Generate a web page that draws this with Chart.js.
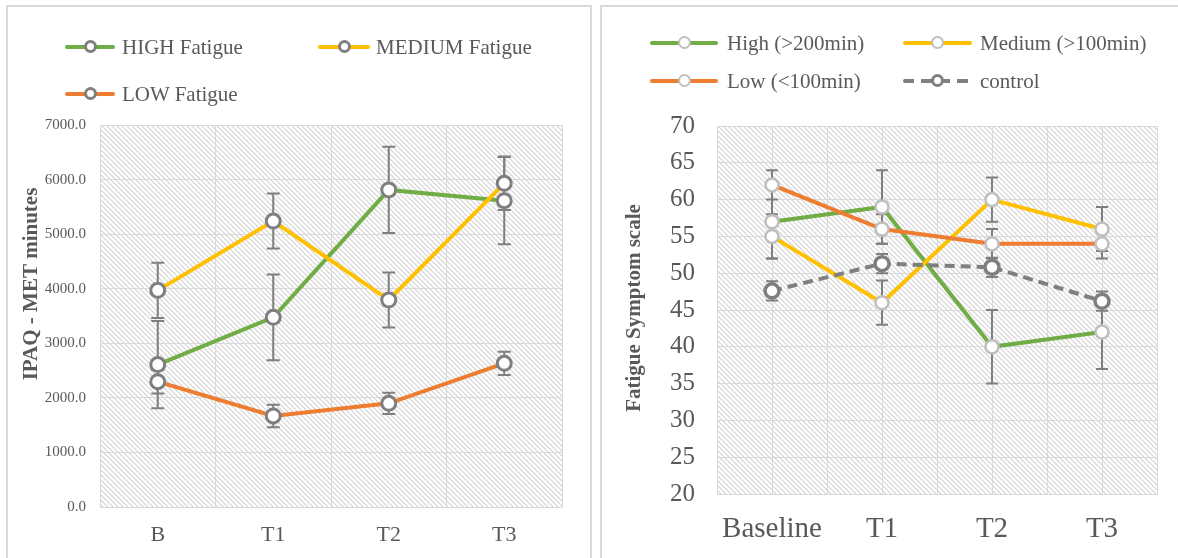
<!DOCTYPE html>
<html lang="en">
  <head>
    <meta charset="UTF-8" />
    <title>Fatigue charts</title>
    <script src="https://cdn.jsdelivr.net/npm/chart.js"></script>
    <style>
      body {
        margin: 0;
        width: 1178px;
        height: 558px;
        overflow: hidden;
        position: relative;
        background: #fff;
        font-family: "Liberation Serif", "Times New Roman", serif;
      }
      .panel {
        position: absolute;
        top: 5px;
        height: 600px;
        border: 2px solid #d9d9d9;
        box-sizing: border-box;
      }
      #leftPanel { left: 6px; width: 586px; }
      #rightPanel { left: 600px; width: 600px; }
      .holder { position: absolute; top: 7px; height: 551px; }
      #leftHolder { left: 8px; width: 580px; }
      #rightHolder { left: 604px; width: 574px; }
      .key {
        position: absolute;
        display: flex;
        align-items: center;
        height: 26px;
        font-size: 21px;
        color: #595959;
        white-space: nowrap;
      }
      .swatch { position: relative; height: 14px; }
      .swatch .ln {
        position: absolute;
        left: 0;
        right: 0;
        top: 5px;
        height: 4px;
        border-radius: 2px;
      }
      .swatch .dot {
        position: absolute;
        left: 50%;
        top: 0px;
        width: 13px;
        height: 13px;
        margin-left: -6.5px;
        box-sizing: border-box;
        border-radius: 50%;
        background: #fff;
      }
    </style>
  </head>
  <body>
    <div class="panel" id="leftPanel"></div>
    <div class="panel" id="rightPanel"></div>
    <div class="holder" id="leftHolder"><canvas id="metChart"></canvas></div>
    <div class="holder" id="rightHolder"><canvas id="fssChart"></canvas></div>

    <script>
      // ---- left chart: IPAQ MET minutes ----
      const metLabels = ["B", "T1", "T2", "T3"];
      const highMet = [2610, 3476, 5810, 5614];
      const highMetErr = [800, 785, 790, 800];
      const mediumMet = [3970, 5240, 3793, 5932];
      const mediumMetErr = [505, 504, 505, 490];
      const lowMet = [2296, 1668, 1900, 2633];
      const lowMetErr = [215, 205, 195, 213];
      const metTicks = [0, 1000, 2000, 3000, 4000, 5000, 6000, 7000];

      // ---- right chart: fatigue symptom scale ----
      const fssLabels = ["Baseline", "T1", "T2", "T3"];
      const highFss = [57, 59, 40, 42];
      const highFssErr = [5, 5, 5, 5];
      const mediumFss = [55, 46, 60, 56];
      const mediumFssErr = [3, 3, 3, 3];
      const lowFss = [62, 56, 54, 54];
      const lowFssErr = [2, 2, 2, 2];
      const controlFss = [47.6, 51.3, 50.8, 46.2];
      const controlFssErr = [1.3, 1.3, 1.3, 1.3];
      const fssTicks = [20, 25, 30, 35, 40, 45, 50, 55, 60, 65, 70];

      const GREEN = "#70ad47";
      const YELLOW = "#ffc000";
      const ORANGE = "#ed7d31";
      const GREY = "#7f7f7f";
      const LIGHTGREY = "#bfbfbf";
      const TEXT = "#595959";
      const GRID = "#d9d9d9";
      const SERIF = "'Liberation Serif', 'Times New Roman', serif";

      function hatch() {
        const c = document.createElement("canvas");
        c.width = 5;
        c.height = 5;
        const g = c.getContext("2d");
        g.fillStyle = "#fff";
        g.fillRect(0, 0, 5, 5);
        g.strokeStyle = "#d2d2d2";
        g.lineWidth = 1.1;
        g.beginPath();
        g.moveTo(-1, -1);
        g.lineTo(6, 6);
        g.moveTo(-1, 4);
        g.lineTo(1, 6);
        g.moveTo(4, -1);
        g.lineTo(6, 1);
        g.stroke();
        return c;
      }

      const plotDecor = {
        id: "plotDecor",
        beforeDraw(chart) {
          const a = chart.chartArea;
          const ctx = chart.ctx;
          ctx.save();
          ctx.fillStyle = ctx.createPattern(hatch(), "repeat");
          ctx.fillRect(a.left, a.top, a.right - a.left, a.bottom - a.top);
          ctx.restore();
        },
        beforeDatasetsDraw(chart, args, opts) {
          const ctx = chart.ctx;
          const a = chart.chartArea;
          const xs = chart.scales.x;
          const ys = chart.scales.y;
          ctx.save();
          if (opts.centerLines) {
            ctx.strokeStyle = GRID;
            ctx.lineWidth = 1;
            chart.data.labels.forEach((l, i) => {
              const x = Math.round(xs.getPixelForValue(i)) + 0.5;
              ctx.beginPath();
              ctx.moveTo(x, a.top);
              ctx.lineTo(x, a.bottom);
              ctx.stroke();
            });
          }
          // error bars
          ctx.strokeStyle = GREY;
          ctx.lineWidth = 2;
          chart.data.datasets.forEach((ds, i) => {
            const meta = chart.getDatasetMeta(i);
            ds.data.forEach((v, j) => {
              const e = ds.errors[j];
              const x = meta.data[j].x;
              const y1 = ys.getPixelForValue(v + e);
              const y2 = ys.getPixelForValue(v - e);
              ctx.beginPath();
              ctx.moveTo(x, y1);
              ctx.lineTo(x, y2);
              ctx.moveTo(x - opts.cap, y1);
              ctx.lineTo(x + opts.cap, y1);
              ctx.moveTo(x - opts.cap, y2);
              ctx.lineTo(x + opts.cap, y2);
              ctx.stroke();
            });
          });
          ctx.restore();
        },
        afterDraw(chart, args, opts) {
          const a = chart.chartArea;
          const ctx = chart.ctx;
          ctx.save();
          ctx.fillStyle = TEXT;
          ctx.font = "bold " + opts.titleSize + "px " + SERIF;
          ctx.textAlign = "center";
          ctx.textBaseline = "middle";
          ctx.translate(a.left - opts.titleDx, (a.top + a.bottom) / 2 + opts.titleDy);
          ctx.rotate(-Math.PI / 2);
          ctx.fillText(opts.title, 0, 0);
          ctx.restore();
        },
      };

      function series(label, data, errors, color, pointColor, pointWidth, radius, order, dash) {
        return {
          label: label,
          data: data,
          errors: errors,
          borderColor: color,
          borderWidth: 4,
          borderDash: dash || [],
          pointBackgroundColor: "#fff",
          pointBorderColor: pointColor,
          pointBorderWidth: pointWidth,
          pointRadius: radius,
          pointHoverRadius: radius,
          tension: 0,
          fill: false,
          order: order,
        };
      }

      function makeChart(id, labels, datasets, yTicks, opt) {
        return new Chart(document.getElementById(id), {
          type: "line",
          data: { labels: labels, datasets: datasets },
          plugins: [plotDecor],
          options: {
            responsive: true,
            maintainAspectRatio: false,
            animation: false,
            layout: { padding: { top: opt.top, right: opt.right, left: 0, bottom: 0 } },
            plugins: {
              legend: { display: false },
              tooltip: { enabled: false },
              plotDecor: opt.decor,
            },
            scales: {
              x: {
                offset: true,
                grid: { offset: true, color: GRID, drawTicks: false },
                border: { color: GRID },
                ticks: {
                  color: TEXT,
                  font: { family: SERIF, size: opt.xFont },
                  padding: opt.xPad,
                },
                afterFit(s) {
                  s.height = opt.xHeight;
                },
              },
              y: {
                min: yTicks[0],
                max: yTicks[yTicks.length - 1],
                afterBuildTicks(s) {
                  s.ticks = yTicks.map((v) => ({ value: v }));
                },
                grid: { color: GRID, drawTicks: false },
                border: { display: false },
                ticks: {
                  color: TEXT,
                  font: { family: SERIF, size: opt.yFont },
                  padding: opt.yPad,
                  callback: opt.fmt,
                },
                afterFit(s) {
                  s.width = opt.yWidth;
                },
              },
            },
          },
        });
      }

      makeChart(
        "metChart",
        metLabels,
        [
          series("HIGH Fatigue", highMet, highMetErr, GREEN, GREY, 3, 7, 3),
          series("MEDIUM Fatigue", mediumMet, mediumMetErr, YELLOW, GREY, 3, 7, 2),
          series("LOW Fatigue", lowMet, lowMetErr, ORANGE, GREY, 3, 7, 1),
        ],
        metTicks,
        {
          top: 118, right: 26, xHeight: 51, yWidth: 92,
          xFont: 22, yFont: 15, xPad: 15, yPad: 14,
          fmt: (v) => Number(v).toFixed(1),
          decor: { cap: 6.5, centerLines: false, title: "IPAQ - MET minutes", titleSize: 21, titleDx: 68, titleDy: -32 },
        }
      );

      makeChart(
        "fssChart",
        fssLabels,
        [
          series("High (>200min)", highFss, highFssErr, GREEN, LIGHTGREY, 2.5, 6.5, 4),
          series("Medium (>100min)", mediumFss, mediumFssErr, YELLOW, LIGHTGREY, 2.5, 6.5, 3),
          series("Low (<100min)", lowFss, lowFssErr, ORANGE, LIGHTGREY, 2.5, 6.5, 2),
          series("control", controlFss, controlFssErr, GREY, GREY, 3.5, 7, 1, [10, 6]),
        ],
        fssTicks,
        {
          top: 119, right: 21, xHeight: 64, yWidth: 113,
          xFont: 29, yFont: 25, xPad: 18, yPad: 22,
          fmt: (v) => v,
          decor: { cap: 6, centerLines: true, title: "Fatigue Symptom scale", titleSize: 21, titleDx: 82, titleDy: -2 },
        }
      );

      // ---- HTML legends ----
      function addKey(label, color, pointColor, pointWidth, lineWidth, gap, left, top, dashed) {
        const key = document.createElement("div");
        key.className = "key";
        key.style.left = left + "px";
        key.style.top = top - 13 + "px";
        const sw = document.createElement("span");
        sw.className = "swatch";
        sw.style.width = lineWidth + "px";
        sw.style.marginRight = gap + "px";
        const ln = document.createElement("span");
        ln.className = "ln";
        ln.style.background = dashed
          ? "repeating-linear-gradient(to right, " + color + " 0 11px, transparent 11px 18px)"
          : color;
        const dot = document.createElement("span");
        dot.className = "dot";
        dot.style.border = pointWidth + "px solid " + pointColor;
        sw.appendChild(ln);
        sw.appendChild(dot);
        key.appendChild(sw);
        key.appendChild(document.createTextNode(label));
        document.body.appendChild(key);
      }

      addKey("HIGH Fatigue", GREEN, GREY, 3, 50, 7, 65, 47);
      addKey("MEDIUM Fatigue", YELLOW, GREY, 3, 52, 6, 318, 47);
      addKey("LOW Fatigue", ORANGE, GREY, 3, 50, 7, 65, 94);
      addKey("High (>200min)", GREEN, LIGHTGREY, 2.5, 68, 9, 650, 43);
      addKey("Medium (>100min)", YELLOW, LIGHTGREY, 2.5, 69, 8, 903, 43);
      addKey("Low (<100min)", ORANGE, LIGHTGREY, 2.5, 68, 9, 650, 81);
      addKey("control", GREY, GREY, 3, 69, 8, 903, 81, true);
    </script>
  </body>
</html>
